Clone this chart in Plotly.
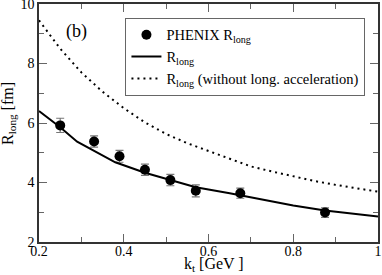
import plotly.graph_objects as go

# PHENIX data
kt_data = [0.25, 0.33, 0.39, 0.45, 0.51, 0.57, 0.675, 0.875]
rlong_data = [5.92, 5.38, 4.88, 4.43, 4.08, 3.72, 3.64, 2.99]
rlong_err = [0.24, 0.19, 0.2, 0.19, 0.19, 0.2, 0.17, 0.16]

# Model R_long
kt_model = [0.2, 0.25, 0.29, 0.33, 0.38, 0.45, 0.51, 0.57, 0.65, 0.7, 0.75, 0.8, 0.875, 0.95, 1.0]
rlong_model = [6.4, 5.86, 5.37, 5.06, 4.68, 4.33, 4.09, 3.84, 3.64, 3.5, 3.36, 3.23, 3.06, 2.93, 2.86]

# Model without longitudinal acceleration
kt_noacc = [0.2, 0.25, 0.3, 0.35, 0.4, 0.45, 0.5, 0.55, 0.6, 0.65, 0.7, 0.75, 0.8, 0.85, 0.9, 0.95, 1.0]
rlong_noacc = [9.45, 8.5, 7.7, 7.05, 6.5, 6.02, 5.63, 5.32, 5.06, 4.8, 4.54, 4.37, 4.2, 4.05, 3.92, 3.8, 3.69]

serif = "Times New Roman"

fig = go.Figure()
fig.add_trace(go.Scatter(
    x=kt_data, y=rlong_data, mode="markers",
    marker=dict(color="black", size=10, symbol="circle"),
    error_y=dict(type="data", array=rlong_err, color="#777777", thickness=1.2, width=4),
    name="PHENIX R<sub>long</sub>",
))
fig.add_trace(go.Scatter(
    x=kt_model, y=rlong_model, mode="lines",
    line=dict(color="black", width=2),
    name="R<sub>long</sub>",
))
fig.add_trace(go.Scatter(
    x=kt_noacc, y=rlong_noacc, mode="lines",
    line=dict(color="black", width=2, dash="2px,4px"),
    name="R<sub>long</sub> (without long. acceleration)",
))

axis_common = dict(
    showline=True, linecolor="#333333", linewidth=1.5, mirror="allticks",
    ticks="inside", ticklen=8, tickcolor="#666666", tickwidth=1,
    showgrid=False, zeroline=False, automargin=False,
    ticklabeloverflow="allow",
    tickfont=dict(family=serif, size=14, color="black"),
)

fig.update_xaxes(
    range=[0.2, 1.0], tickvals=[0.2, 0.4, 0.6, 0.8, 1.0],
    ticktext=["0.2", "0.4", "0.6", "0.8", "1"],
    ticklabelstandoff=-5,
    minor=dict(ticks="inside", ticklen=5, dtick=0.1, tick0=0.2, tickcolor="#666666", showgrid=False),
    **axis_common,
)
fig.update_yaxes(
    range=[2, 10], tickvals=[2, 4, 6, 8, 10],
    minor=dict(ticks="inside", ticklen=5, dtick=1, tick0=2, tickcolor="#666666", showgrid=False),
    **axis_common,
)

fig.add_annotation(
    x=0.111, y=0.884, xref="paper", yref="paper", text="(b)", showarrow=False,
    font=dict(family=serif, size=18, color="black"), xanchor="center", yanchor="middle",
)
fig.add_annotation(
    x=0.516, y=-0.096, xref="paper", yref="paper", text="k<sub>t</sub> [GeV ]", showarrow=False,
    font=dict(family=serif, size=16, color="black"), xanchor="center", yanchor="middle",
)
fig.add_annotation(
    x=-0.09, y=0.54, xref="paper", yref="paper", text="R<sub>long</sub> [fm]", showarrow=False,
    textangle=-90,
    font=dict(family=serif, size=16, color="black"), xanchor="center", yanchor="middle",
)

fig.update_layout(
    width=382, height=275,
    margin=dict(l=39, r=4, t=4, b=33),
    plot_bgcolor="white", paper_bgcolor="white",
    showlegend=True,
    legend=dict(
        x=0.255, y=0.942, xanchor="left", yanchor="top",
        bordercolor="#666666", borderwidth=1, bgcolor="white",
        font=dict(family=serif, size=14.5, color="black"),
        tracegroupgap=0, itemwidth=30,
    ),
)

fig.write_html("out.html", config={"displayModeBar": False},
               post_script="document.body.style.margin='0px';")
